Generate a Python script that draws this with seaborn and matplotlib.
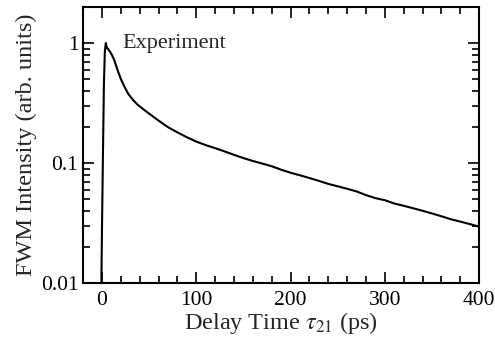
import matplotlib
matplotlib.use("Agg")
import pandas as pd
import seaborn as sns
from matplotlib import pyplot as plt
from matplotlib.ticker import LogLocator, MultipleLocator, NullFormatter, FixedLocator, FixedFormatter

# delay time (ps) and FWM intensity
delay = [-2, -1, 0, 1, 2, 3, 4, 5, 7, 10, 13, 16, 20, 24, 28, 33, 38, 45, 50, 56, 62,
         70, 80, 90, 100, 110, 120, 130, 140, 150, 160, 170, 180, 190, 200, 210, 220,
         230, 240, 250, 260, 270, 280, 290, 300, 310, 320, 330, 340, 350, 360, 370,
         380, 390, 400]
intensity = [0.003, 0.006, 0.03, 0.12, 0.45, 0.85, 1.0, 0.92, 0.88, 0.81, 0.72, 0.61,
             0.50, 0.43, 0.375, 0.335, 0.305, 0.276, 0.258, 0.238, 0.220, 0.199, 0.180,
             0.164, 0.151, 0.141, 0.133, 0.125, 0.117, 0.110, 0.104, 0.099, 0.094,
             0.088, 0.083, 0.079, 0.075, 0.071, 0.067, 0.064, 0.061, 0.058, 0.054,
             0.051, 0.049, 0.046, 0.044, 0.042, 0.040, 0.038, 0.036, 0.034, 0.0325,
             0.031, 0.0295]

df = pd.DataFrame({"delay": delay, "intensity": intensity})

sns.set_style("ticks")
plt.rcParams["font.family"] = ["Liberation Serif", "DejaVu Serif"]
plt.rcParams["mathtext.fontset"] = "stix"

fig = plt.figure(figsize=(4.95, 3.46), dpi=100)
ax = fig.add_axes([0.168, 0.182, 0.800, 0.798])

sns.lineplot(data=df, x="delay", y="intensity", ax=ax, color="black", linewidth=1.5)

ax.set_yscale("log")
ax.set_xlim(-20, 400)
ax.set_ylim(0.01, 2)

# ticks
ax.xaxis.set_major_locator(MultipleLocator(100))
ax.xaxis.set_minor_locator(MultipleLocator(20))
ax.yaxis.set_major_locator(FixedLocator([0.01, 0.1, 1]))
ax.yaxis.set_major_formatter(FixedFormatter(["0.01", "0.1", "1"]))
ax.yaxis.set_minor_locator(LogLocator(base=10, subs=range(2, 10), numticks=10))
ax.yaxis.set_minor_formatter(NullFormatter())
ax.tick_params(which="both", direction="in", top=True, right=True, width=1.2,
               labelsize=15.5, colors="black")
ax.tick_params(which="major", length=8)
ax.tick_params(which="minor", length=5)
ax.tick_params(axis="x", which="major", pad=6)
for s in ax.spines.values():
    s.set_linewidth(1.5)
    s.set_color("black")

ax.text(22, 1.0, "Experiment", fontsize=16, va="center", ha="left")

ax.set_xlabel(r"Delay Time $\tau_{21}$ (ps)", fontsize=17.5, labelpad=0)
ax.set_ylabel("FWM Intensity (arb. units)", fontsize=17.5, labelpad=3)

fig.savefig("out.png", dpi=100)
